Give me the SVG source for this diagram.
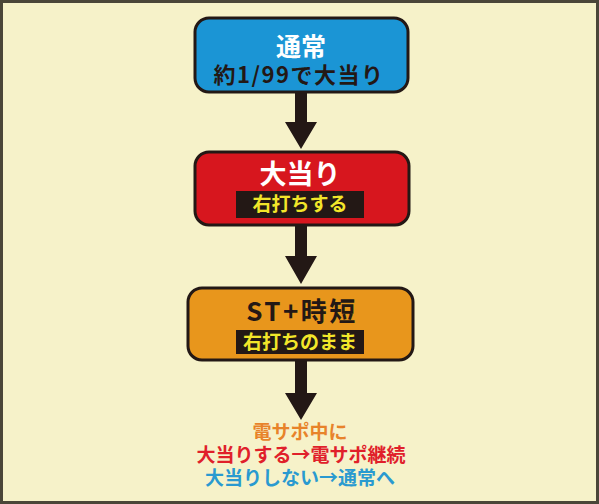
<svg xmlns="http://www.w3.org/2000/svg" width="599" height="504" viewBox="0 0 599 504">
<style>
text{font-family:"Noto Sans CJK JP","Noto Sans",sans-serif;font-weight:700;text-anchor:middle}
.box{stroke:#231815;stroke-width:3}
.lab{fill:#231815}
.yl{fill:#f2e62a;font-size:19px}
.arrow{fill:#231815}
</style>
<rect x="1.5" y="1.5" width="596" height="501" fill="#f6f2c9" stroke="#4a4638" stroke-width="3"/>
<g id="connectors">
<path class="arrow" d="M295 93 H307 V122 H317 L301 149 L285 122 H295 Z"/>
<path class="arrow" d="M295 226 H307 V256 H317 L301 284 L285 256 H295 Z"/>
<path class="arrow" d="M295 361 H307 V393 H317 L301 420 L285 393 H295 Z"/>
</g>
<g id="node-normal">
<rect class="box" x="195" y="18" width="213" height="74" rx="14" fill="#1b95d5"/>
<text x="301" y="56" font-size="25" fill="#ffffff">通常</text>
<text x="299" y="83" font-size="22" letter-spacing="1.5" fill="#231815">約1/99で大当り</text>
</g>
<g id="node-jackpot">
<rect class="box" x="195" y="152" width="214" height="73" rx="14" fill="#d7161e"/>
<text x="300" y="184" font-size="27" fill="#ffffff">大当り</text>
<rect class="lab" x="236" y="191" width="128" height="27"/>
<text class="yl" x="300" y="211">右打ちする</text>
</g>
<g id="node-st">
<rect class="box" x="188" y="288" width="225" height="72" rx="14" fill="#e8961c"/>
<text x="302" y="321" font-size="26" letter-spacing="2.5" fill="#231815">ST+時短</text>
<rect class="lab" x="236" y="330" width="128" height="24"/>
<text class="yl" x="300" y="349">右打ちのまま</text>
</g>
<g id="notes">
<text x="300" y="439" font-size="19" fill="#e8832a">電サポ中に</text>
<text x="301" y="462" font-size="19" fill="#e0202a">大当りする→電サポ継続</text>
<text x="300" y="485" font-size="19" fill="#2a9ad0">大当りしない→通常へ</text>
</g>
</svg>
